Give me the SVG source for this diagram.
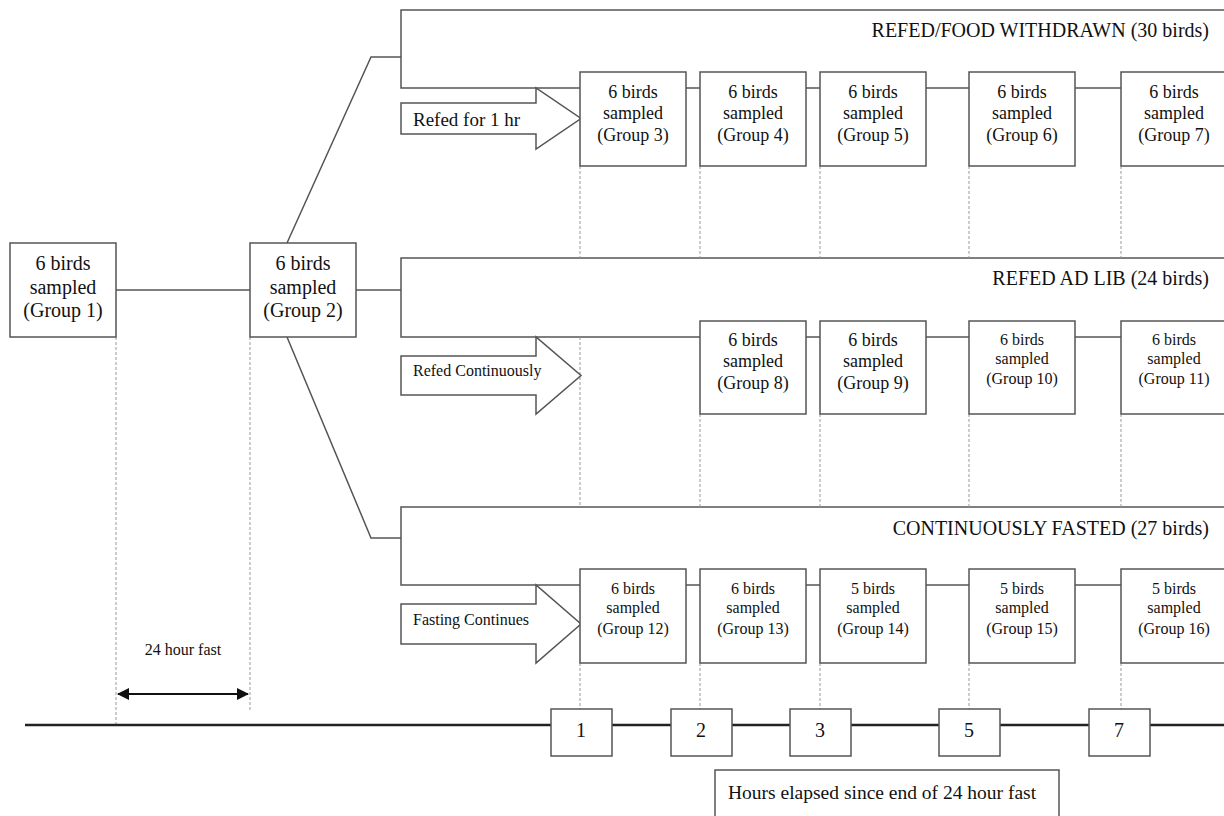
<svg xmlns="http://www.w3.org/2000/svg" width="1224" height="816" viewBox="0 0 1224 816">
<defs>
<style>
.ln{fill:none;stroke:#555;stroke-width:1.5}
.dash{fill:none;stroke:#9a9a9a;stroke-width:1;stroke-dasharray:3,2}
.box{fill:#fff;stroke:#555;stroke-width:1.5}
.t{font-family:"Liberation Serif","Times New Roman",serif;fill:#111;text-anchor:middle}
.big{font-size:20px}
.mid{font-size:18px}
.sm{font-size:16px}
.ttl{font-family:"Liberation Serif","Times New Roman",serif;fill:#111;font-size:20px;text-anchor:end}
.lbl{font-family:"Liberation Serif","Times New Roman",serif;fill:#111;font-size:16px}
</style>
<marker id="ah" viewBox="0 0 12 12" refX="11" refY="6" markerWidth="12" markerHeight="12" markerUnits="userSpaceOnUse" orient="auto-start-reverse">
<path d="M0,0 L12,6 L0,12 z" fill="#111"/>
</marker>
</defs>
<rect width="1224" height="816" fill="#fff"/>

<g id="connectors">
<path class="ln" d="M116,290 H250"/>
<path class="ln" d="M356,290 H401"/>
<path class="ln" d="M287,243 L371,57 H401"/>
<path class="ln" d="M287,337 L371,538 H401"/>
<path class="ln" d="M1226,10 H401 V88 H1226"/>
<path class="ln" d="M1226,258 H401 V337 H1226"/>
<path class="ln" d="M1226,507 H401 V585 H1226"/>
<path class="dash" d="M116,337 V725 M250,337 V710"/>
<path class="dash" d="M580,166 V258 M580,337 V507 M580,663 V709"/>
<path class="dash" d="M700,166 V258 M700,414 V507 M700,663 V709"/>
<path class="dash" d="M820,166 V258 M820,414 V507 M820,663 V709"/>
<path class="dash" d="M969,166 V258 M969,414 V507 M969,663 V709"/>
<path class="dash" d="M1121,166 V258 M1121,414 V507 M1121,663 V709"/>
<path d="M25,725 H1224" fill="none" stroke="#222" stroke-width="2.5"/>
<path d="M118,694 H248" fill="none" stroke="#111" stroke-width="2" marker-start="url(#ah)" marker-end="url(#ah)"/>
</g>

<g id="title-refed-withdrawn"><text class="ttl" x="1209" y="37">REFED/FOOD WITHDRAWN (30 birds)</text></g>
<g id="title-adlib"><text class="ttl" x="1209" y="285">REFED AD LIB (24 birds)</text></g>
<g id="title-fasted"><text class="ttl" x="1209" y="535">CONTINUOUSLY FASTED (27 birds)</text></g>

<g id="arrow-refed-1hr">
<polygon class="box" points="401,103 536,103 536,88 581,118.5 536,149 536,134 401,134"/>
<text class="lbl" x="413" y="126" style="font-size:19px">Refed for 1 hr</text>
</g>
<g id="arrow-refed-cont">
<polygon class="box" points="401,356 536,356 536,337 581,375.5 536,414 536,395 401,395"/>
<text class="lbl" x="413" y="376">Refed Continuously</text>
</g>
<g id="arrow-fasting">
<polygon class="box" points="401,604 536,604 536,585 581,624 536,663 536,644 401,644"/>
<text class="lbl" x="413" y="625">Fasting Continues</text>
</g>

<g id="g1"><rect class="box" x="10" y="243" width="106" height="94"/>
<text class="t big" x="63" y="270">6 birds</text><text class="t big" x="63" y="294">sampled</text><text class="t big" x="63" y="317">(Group 1)</text></g>
<g id="g2"><rect class="box" x="250" y="243" width="106" height="94"/>
<text class="t big" x="303" y="270">6 birds</text><text class="t big" x="303" y="294">sampled</text><text class="t big" x="303" y="317">(Group 2)</text></g>

<g id="g3"><rect class="box" x="580" y="72" width="106" height="94"/>
<text class="t mid" x="633" y="98">6 birds</text><text class="t mid" x="633" y="119">sampled</text><text class="t mid" x="633" y="141">(Group 3)</text></g>
<g id="g4"><rect class="box" x="700" y="72" width="106" height="94"/>
<text class="t mid" x="753" y="98">6 birds</text><text class="t mid" x="753" y="119">sampled</text><text class="t mid" x="753" y="141">(Group 4)</text></g>
<g id="g5"><rect class="box" x="820" y="72" width="106" height="94"/>
<text class="t mid" x="873" y="98">6 birds</text><text class="t mid" x="873" y="119">sampled</text><text class="t mid" x="873" y="141">(Group 5)</text></g>
<g id="g6"><rect class="box" x="969" y="72" width="106" height="94"/>
<text class="t mid" x="1022" y="98">6 birds</text><text class="t mid" x="1022" y="119">sampled</text><text class="t mid" x="1022" y="141">(Group 6)</text></g>
<g id="g7"><rect class="box" x="1121" y="72" width="106" height="94"/>
<text class="t mid" x="1174" y="98">6 birds</text><text class="t mid" x="1174" y="119">sampled</text><text class="t mid" x="1174" y="141">(Group 7)</text></g>

<g id="g8"><rect class="box" x="700" y="321" width="106" height="93"/>
<text class="t mid" x="753" y="346">6 birds</text><text class="t mid" x="753" y="367">sampled</text><text class="t mid" x="753" y="389">(Group 8)</text></g>
<g id="g9"><rect class="box" x="820" y="321" width="106" height="93"/>
<text class="t mid" x="873" y="346">6 birds</text><text class="t mid" x="873" y="367">sampled</text><text class="t mid" x="873" y="389">(Group 9)</text></g>
<g id="g10"><rect class="box" x="969" y="321" width="106" height="93"/>
<text class="t sm" x="1022" y="345">6 birds</text><text class="t sm" x="1022" y="364">sampled</text><text class="t sm" x="1022" y="384">(Group 10)</text></g>
<g id="g11"><rect class="box" x="1121" y="321" width="106" height="93"/>
<text class="t sm" x="1174" y="345">6 birds</text><text class="t sm" x="1174" y="364">sampled</text><text class="t sm" x="1174" y="384">(Group 11)</text></g>

<g id="g12"><rect class="box" x="580" y="569" width="106" height="94"/>
<text class="t sm" x="633" y="594">6 birds</text><text class="t sm" x="633" y="613">sampled</text><text class="t sm" x="633" y="634">(Group 12)</text></g>
<g id="g13"><rect class="box" x="700" y="569" width="106" height="94"/>
<text class="t sm" x="753" y="594">6 birds</text><text class="t sm" x="753" y="613">sampled</text><text class="t sm" x="753" y="634">(Group 13)</text></g>
<g id="g14"><rect class="box" x="820" y="569" width="106" height="94"/>
<text class="t sm" x="873" y="594">5 birds</text><text class="t sm" x="873" y="613">sampled</text><text class="t sm" x="873" y="634">(Group 14)</text></g>
<g id="g15"><rect class="box" x="969" y="569" width="106" height="94"/>
<text class="t sm" x="1022" y="594">5 birds</text><text class="t sm" x="1022" y="613">sampled</text><text class="t sm" x="1022" y="634">(Group 15)</text></g>
<g id="g16"><rect class="box" x="1121" y="569" width="106" height="94"/>
<text class="t sm" x="1174" y="594">5 birds</text><text class="t sm" x="1174" y="613">sampled</text><text class="t sm" x="1174" y="634">(Group 16)</text></g>

<g id="fast-label"><text class="t sm" x="183" y="655">24 hour fast</text></g>

<g id="h1"><rect class="box" x="551" y="709" width="61" height="47"/><text class="t big" x="581" y="737">1</text></g>
<g id="h2"><rect class="box" x="671" y="709" width="61" height="47"/><text class="t big" x="701" y="737">2</text></g>
<g id="h3"><rect class="box" x="790" y="709" width="61" height="47"/><text class="t big" x="820" y="737">3</text></g>
<g id="h5"><rect class="box" x="939" y="709" width="61" height="47"/><text class="t big" x="969" y="737">5</text></g>
<g id="h7"><rect class="box" x="1089" y="709" width="61" height="47"/><text class="t big" x="1119" y="737">7</text></g>

<g id="hours-label"><rect class="box" x="715" y="770" width="344" height="60"/>
<text class="lbl" x="728" y="799" style="font-size:19.5px">Hours elapsed since end of 24 hour fast</text></g>
</svg>
